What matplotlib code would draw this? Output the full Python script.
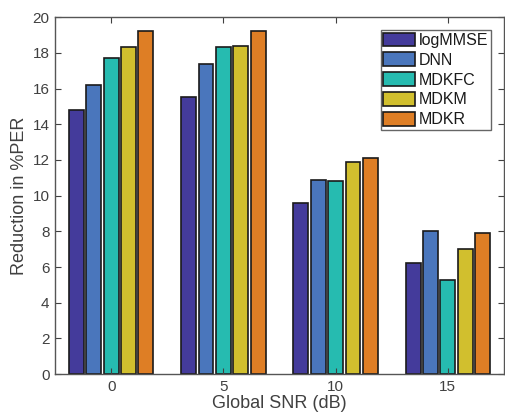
import matplotlib
matplotlib.use("Agg")
import matplotlib.pyplot as plt
import numpy as np

snr_labels = ["0", "5", "10", "15"]
methods = ["logMMSE", "DNN", "MDKFC", "MDKM", "MDKR"]
logmmse = [14.8, 15.5, 9.6, 6.2]
dnn = [16.2, 17.4, 10.9, 8.0]
mdkfc = [17.7, 18.3, 10.8, 5.3]
mdkm = [18.3, 18.4, 11.9, 7.0]
mdkr = [19.2, 19.2, 12.1, 7.9]
series = [logmmse, dnn, mdkfc, mdkm, mdkr]
colors = ["#443b9b", "#4a76bc", "#26bbb0", "#d1bf2e", "#de7e25"]

plt.rcParams['font.family'] = ['Liberation Sans', 'DejaVu Sans']
fig = plt.figure(figsize=(5.05, 4.18), dpi=100)
ax = fig.add_axes([0.109, 0.105, 0.889, 0.854])

x = np.arange(1, len(snr_labels) + 1)
step = 0.155
width = 0.133
for i, (vals, c, name) in enumerate(zip(series, colors, methods)):
    ax.bar(x + (i - 2) * step, vals, width=width, color=c, edgecolor="#1a1a1a",
           linewidth=1.2, label=name)

ax.set_xlim(0.5, 4.5)
ax.set_ylim(0, 20)
ax.set_yticks(np.arange(0, 21, 2))
ax.set_xticks(x)
ax.set_xticklabels(snr_labels)
gray = "#404040"
ax.tick_params(direction="in", top=True, right=True, length=4, colors=gray,
               labelsize=11, labelcolor=gray, pad=4)
for s in ax.spines.values():
    s.set_color("#555555")
    s.set_linewidth(1.0)
ax.set_xlabel("Global SNR (dB)", fontsize=13, color=gray, labelpad=1)
ax.set_ylabel("Reduction in %PER", fontsize=13, color=gray, labelpad=3)

leg = ax.legend(loc="upper right", bbox_to_anchor=(0.971, 0.9636), fontsize=11.5,
                frameon=True, fancybox=False, handlelength=2.0, handleheight=0.9,
                handletextpad=0.25, labelspacing=0.3, borderpad=0.15,
                borderaxespad=0.0)
leg.get_frame().set_edgecolor("#404040")
leg.get_frame().set_linewidth(1.0)
for t in leg.get_texts():
    t.set_color("#1a1a1a")

fig.savefig("out.png", dpi=100)
